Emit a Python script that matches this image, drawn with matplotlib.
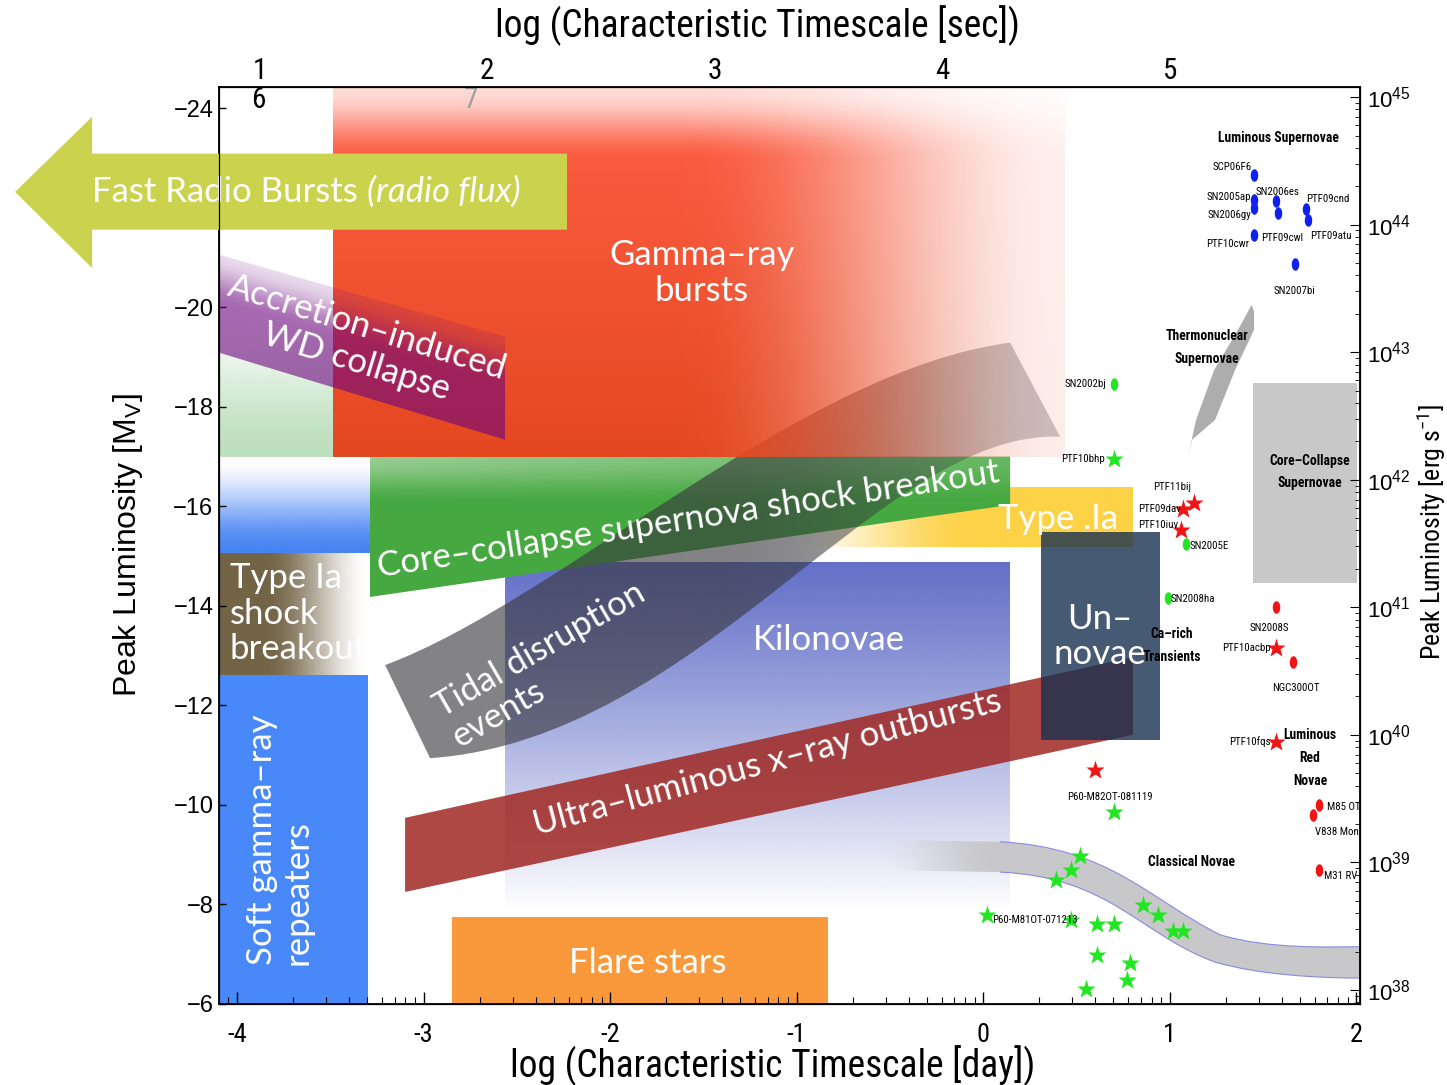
import numpy as np
import matplotlib

matplotlib.use("Agg")
import matplotlib.pyplot as plt
import matplotlib.font_manager as fm
from matplotlib.patches import Polygon, PathPatch, Rectangle
from matplotlib.path import Path

plt.rcParams["mathtext.default"] = "regular"


def narrow_family():
    """Pick a condensed sans face if one is installed, else plain Liberation Sans."""
    entries = fm.fontManager.ttflist
    names = {f.name for f in entries}
    for fam in ("Liberation Sans Narrow", "Arial Narrow", "Roboto Condensed",
                "Noto Sans Condensed", "Open Sans Condensed", "Noto Sans SemiCondensed",
                "Open Sans SemiCondensed"):
        if fam in names:
            return fam, "normal"
    for fam in ("Noto Sans", "Open Sans", "Roboto", "DejaVu Sans"):
        if any(f.name == fam and f.stretch in ("condensed", "semi-condensed", "extra-condensed")
               for f in entries):
            return fam, "condensed"
    for f in entries:
        low = f.name.lower()
        if ("condensed" in low or "narrow" in low) and "mono" not in low and "serif" not in low:
            return f.name, "normal"
    return "Liberation Sans", "normal"


NARROW_FAM, NARROW_STRETCH = narrow_family()
NARROW = [NARROW_FAM, "DejaVu Sans"]
PLAIN = ["Liberation Sans", "DejaVu Sans"]
LIGHT = ["Lato", "Roboto", "DejaVu Sans"]

# ---------------------------------------------------------------------------
# Known transients: log10(timescale / day) and peak absolute V magnitude
# ---------------------------------------------------------------------------
lsn_names = ["SCP06F6", "SN2005ap", "SN2006gy", "PTF10cwr", "SN2006es",
             "PTF09cwl", "PTF09cnd", "PTF09atu", "SN2007bi"]
lsn_logt = [1.45, 1.45, 1.45, 1.45, 1.57, 1.58, 1.73, 1.74, 1.67]
lsn_mag = [-22.66, -22.16, -22.00, -21.46, -22.14, -21.90, -21.98, -21.76, -20.87]

gdot_names = ["SN2002bj", "SN2005E", "SN2008ha"]
gdot_logt = [0.70, 1.09, 0.99]
gdot_mag = [-18.46, -15.25, -14.16]

gstar_names = ["PTF10bhp", "P60-M81OT-071213"]
gstar_logt = [0.70, 0.02]
gstar_mag = [-16.95, -7.79]

# unlabelled classical novae
nova_logt = [0.70, 0.52, 0.47, 0.39, 0.47, 0.61, 0.70, 0.86, 0.94, 1.02,
             1.07, 0.61, 0.79, 0.77, 0.55]
nova_mag = [-9.86, -8.97, -8.69, -8.49, -7.69, -7.61, -7.61, -7.99, -7.79,
            -7.47, -7.47, -6.98, -6.82, -6.48, -6.30]

rstar_names = ["PTF11bij", "PTF09dav", "PTF10iuv", "PTF10acbp", "PTF10fqs",
               "P60-M82OT-081119"]
rstar_logt = [1.13, 1.07, 1.06, 1.57, 1.57, 0.60]
rstar_mag = [-16.07, -15.95, -15.53, -13.16, -11.27, -10.70]

rdot_names = ["SN2008S", "NGC300OT", "M85 OT", "V838 Mon", "M31 RV"]
rdot_logt = [1.57, 1.66, 1.80, 1.77, 1.80]
rdot_mag = [-13.98, -12.87, -10.00, -9.80, -8.69]

day_ticks = [-4, -3, -2, -1, 0, 1, 2]
day_ticklabels = ["-4", "-3", "-2", "-1", "0", "1", "2"]
sec_ticks = [1, 2, 3, 4, 5]
mag_ticks = [-24, -22, -20, -18, -16, -14, -12, -10, -8, -6]
lum_exponents = [38, 39, 40, 41, 42, 43, 44, 45]

# label placement next to each marker: (dx pt, dy pt, ha)
label_pos = {
    "SCP06F6": (-1.5, 6, "right"), "SN2005ap": (-1.5, 2, "right"),
    "SN2006gy": (-1.5, -5, "right"), "PTF10cwr": (-3, -7, "right"),
    "SN2006es": (1.5, 6.5, "center"), "PTF09cwl": (3.5, -18, "center"),
    "PTF09cnd": (0, 7, "left"), "PTF09atu": (1.5, -12, "left"),
    "SN2007bi": (0, -19.5, "center"),
    "SN2002bj": (-5, 0, "right"), "SN2005E": (2, -2, "left"),
    "SN2008ha": (2, -1, "left"),
    "PTF10bhp": (-6, 0, "right"), "P60-M81OT-071213": (3.5, -3.5, "left"),
    "PTF11bij": (-2, 11.5, "right"), "PTF09dav": (-1.5, 0, "right"),
    "PTF10iuv": (-2, 3.5, "right"), "PTF10acbp": (-3.5, 0, "right"),
    "PTF10fqs": (-3.5, 0, "right"), "P60-M82OT-081119": (11, -19.5, "center"),
    "SN2008S": (-5, -15, "center"), "NGC300OT": (2, -18.5, "center"),
    "M85 OT": (6, -1.5, "left"), "V838 Mon": (1.5, -12, "left"),
    "M31 RV": (3.5, -4.5, "left"),
}

XLIM = (-4.097, 2.021)
YLIM = (-6.0, -24.43)


def smooth(t):
    t = np.clip(t, 0.0, 1.0)
    return t * t * (3 - 2 * t)


def grid(nu=300, nv=200):
    return np.meshgrid(np.linspace(0, 1, nu), np.linspace(0, 1, nv))


def rgba(rgb, alpha):
    rgb = np.asarray(rgb, dtype=float)
    if rgb.ndim == 1:
        rgb = np.broadcast_to(rgb / 255.0, alpha.shape + (3,))
    else:
        rgb = rgb / 255.0
    return np.dstack([rgb, np.clip(alpha, 0, 1)])


def shade(ax, shape, box, img, z):
    """Paint img over box=(x0, x1, m_top, m_bottom), clipped to shape."""
    if isinstance(shape, Path):
        patch = PathPatch(shape, fc="none", ec="none")
    else:
        patch = Polygon(shape, closed=True, fc="none", ec="none")
    ax.add_patch(patch)
    x0, x1, mt, mb = box
    im = ax.imshow(img, extent=(x0, x1, mt, mb), origin="lower", aspect="auto",
                   interpolation="bilinear", zorder=z)
    im.set_clip_path(patch)
    return im


def rect(x0, x1, mt, mb):
    return [(x0, mt), (x1, mt), (x1, mb), (x0, mb)]


fig = plt.figure(figsize=(14.47, 10.85), dpi=100)
ax = fig.add_axes([0.1513, 0.0747, 0.7886, 0.8452])

# green shock-breakout wash behind the GRB box
U, V = grid()
b = (-4.097, -3.485, -20.15, -17.0)
shade(ax, rect(*b), b, rgba((100, 180, 100), 0.42 * smooth(V)), 1.0)

# gamma-ray bursts (drawn over the TDE band, which shows through the faded side)
U, V = grid(400, 250)
top_c = np.array([255, 95, 70.0])
bot_c = np.array([228, 72, 32.0])
col = top_c * (1 - V[..., None]) + bot_c * V[..., None]
a = (1 - 0.9 * smooth((U - 0.48) / 0.52)) * (0.22 + 0.78 * smooth(V / 0.2))
b = (-3.485, 0.440, -24.43, -17.0)
shade(ax, rect(*b), b, rgba(col, a), 1.55)

# accretion-induced WD collapse
U, V = grid()
b = (-4.097, -2.563, -21.06, -17.34)
X = b[0] + U * (b[1] - b[0])
Y = b[2] + V * (b[3] - b[2])
f = (X - b[0]) / (b[1] - b[0])
ytop = -21.06 + f * 1.65
ybot = -19.09 + f * 1.75
t = (Y - ytop) / (ybot - ytop)
aic = [(-4.097, -21.06), (-2.563, -19.41), (-2.563, -17.34), (-4.097, -19.09)]
shade(ax, aic, b, rgba((108, 5, 126), 0.6 * (0.25 + 0.75 * smooth(t / 0.5))), 1.6)

# type .Ia
U, V = grid()
b = (-1.088, 0.804, -16.39, -15.19)
shade(ax, rect(*b), b, rgba((253, 210, 70), smooth(U / 0.55)), 1.2)

# core-collapse supernova shock breakout
U, V = grid()
b = (-3.287, 0.145, -17.0, -14.18)
light = (1 - smooth(V / 0.35)) * (1 - 0.6 * U)
col = (np.array([70, 168, 65.0]) * (1 - light[..., None])
       + np.array([150, 205, 145.0]) * light[..., None])
ccsn = [(-3.287, -17.0), (0.145, -17.0), (0.145, -16.03), (-3.287, -14.18)]
shade(ax, ccsn, b, rgba(col, np.ones_like(U)), 1.3)

# blue wash left of the breakout band
U, V = grid()
b = (-4.097, -3.287, -17.0, -15.07)
shade(ax, rect(*b), b, rgba((70, 132, 242), smooth(V)), 1.3)

# type Ia shock breakout
U, V = grid()
b = (-4.097, -3.287, -15.07, -12.61)
shade(ax, rect(*b), b, rgba((115, 100, 70), 1 - smooth((U - 0.3) / 0.7)), 1.3)

# soft gamma-ray repeaters
ax.add_patch(Rectangle((-4.097, -12.61), 0.799, 6.61, fc="#4888f8", ec="none", zorder=1.3))

# kilonovae
U, V = grid()
b = (-2.563, 0.145, -14.88, -7.89)
shade(ax, rect(*b), b, rgba((100, 112, 200), 1 - V ** 1.1), 1.2)

# tidal disruption events
tde = Path([(-3.206, -12.81), (-2.268, -14.12), (-0.981, -18.74), (0.145, -19.29),
            (0.413, -17.40), (-0.552, -17.54), (-1.517, -11.31), (-2.965, -10.94),
            (-3.206, -12.81), (-3.206, -12.81)],
           [Path.MOVETO, Path.CURVE4, Path.CURVE4, Path.CURVE4,
            Path.LINETO, Path.CURVE4, Path.CURVE4, Path.CURVE4,
            Path.LINETO, Path.CLOSEPOLY])
U, V = grid()
b = (-3.206, 0.413, -19.29, -10.94)
shade(ax, tde, b, rgba((55, 55, 60), 0.62 - 0.34 * smooth((U - 0.5) / 0.5)), 1.5)

# ultra-luminous x-ray outbursts
ulx = [(-3.099, -9.74), (0.804, -12.97), (0.804, -11.41), (-3.099, -8.25)]
ax.add_patch(Polygon(ulx, closed=True, fc=(160 / 255, 40 / 255, 35 / 255), alpha=0.85,
                     ec="none", zorder=1.6))

# un-novae
ax.add_patch(Rectangle((0.311, -15.49), 0.638, 4.18, fc=(24 / 255, 49 / 255, 80 / 255),
                       alpha=0.8, ec="none", zorder=1.7))

# flare stars
ax.add_patch(Rectangle((-2.847, -7.75), 2.016, 1.75, fc="#fa983c", ec="none", zorder=1.3))

# classical novae band
nov = Path([(-0.568, -9.30), (0.091, -9.26), (0.681, -9.14), (0.895, -8.09), (1.271, -7.39),
            (1.539, -7.09), (1.861, -7.15), (2.021, -7.15), (2.021, -6.52),
            (1.807, -6.52), (1.485, -6.58), (1.244, -6.84),
            (0.842, -7.39), (0.681, -8.55), (0.091, -8.65), (-0.568, -8.69),
            (-0.568, -9.30)],
           [Path.MOVETO, Path.LINETO, Path.CURVE4, Path.CURVE4, Path.CURVE4,
            Path.CURVE4, Path.CURVE4, Path.CURVE4, Path.LINETO,
            Path.CURVE4, Path.CURVE4, Path.CURVE4,
            Path.CURVE4, Path.CURVE4, Path.CURVE4, Path.LINETO, Path.CLOSEPOLY])
U, V = grid()
b = (-0.568, 2.021, -9.30, -6.52)
shade(ax, nov, b, rgba((200, 200, 202), smooth(U / 0.25)), 1.4)
for seg in ([(0.091, -9.26), (0.681, -9.14), (0.895, -8.09), (1.271, -7.39),
             (1.539, -7.09), (1.861, -7.15), (2.021, -7.15)],
            [(0.091, -8.65), (0.681, -8.55), (0.842, -7.39), (1.244, -6.84),
             (1.485, -6.58), (1.807, -6.52), (2.021, -6.52)]):
    codes = [Path.MOVETO] + [Path.CURVE4] * 6
    ax.add_patch(PathPatch(Path(seg, codes), fill=False, ec="#8a8ae0", lw=0.8, zorder=1.45))

# thermonuclear supernovae
thermo = [(1.099, -17.0), (1.142, -17.74), (1.239, -18.74), (1.367, -19.55), (1.440, -20.05),
          (1.453, -19.91), (1.453, -19.55), (1.351, -18.74), (1.244, -17.74), (1.121, -17.34)]
ax.add_patch(Polygon(thermo, closed=True, fc="#adadad", ec="none", zorder=1.4))

# core-collapse supernovae
ax.add_patch(Rectangle((1.448, -18.48), 0.557, 4.02, fc="#c8c8c8", ec="none", zorder=1.4))

# fast radio bursts arrow, reaching past the axes
frb = [(-5.190, -22.32), (-4.777, -23.83), (-4.777, -23.09), (-2.231, -23.09),
       (-2.231, -21.56), (-4.777, -21.56), (-4.777, -20.79)]
ax.add_patch(Polygon(frb, closed=True, fc="#cbd24e", ec="none", zorder=6, clip_on=False))

# ---------------------------------------------------------------------------
# region names
# ---------------------------------------------------------------------------
lt = dict(color="white", family=LIGHT, fontweight="normal", fontsize=25,
          ha="center", va="center", rotation_mode="anchor", linespacing=1.13, zorder=8)
t1 = ax.text(-4.777, -22.32, "Fast Radio Bursts ", **{**lt, "ha": "left"})
ax.annotate("(radio flux)", xy=(1, 0.5), xycoords=t1, ha="left", va="center",
            color="white", family=LIGHT, fontsize=25, style="italic", zorder=8)
ax.text(-1.507, -20.69, "Gamma–ray\nbursts", **lt)
ax.text(-3.330, -19.25, "Accretion–induced\nWD collapse", rotation=-17, **lt)
ax.text(-1.582, -15.73, "Core–collapse supernova shock breakout", rotation=8.7, **lt)
ax.text(-4.038, -13.84, "Type Ia\nshock\nbreakout", **{**lt, "ha": "left"})
ax.text(-3.769, -9.30, "Soft gamma–ray\nrepeaters", rotation=90, multialignment="left", **lt)
ax.text(-2.332, -12.81, "Tidal disruption\nevents", rotation=30, multialignment="left", **lt)
ax.text(-0.826, -13.32, "Kilonovae", **lt)
ax.text(0.402, -15.75, "Type .Ia", **lt)
ax.text(0.627, -13.38, "Un–\nnovae", **lt)
ax.text(-1.158, -10.84, "Ultra–luminous x–ray outbursts", rotation=15, **lt)
ax.text(-1.796, -6.82, "Flare stars", **lt)

bk = dict(color="black", family=NARROW, stretch=NARROW_STRETCH, fontweight="bold",
          fontsize=9.8, ha="center", va="center", linespacing=1.8, zorder=9)
ax.text(1.582, -23.41, "Luminous Supernovae", **bk)
ax.text(1.201, -19.19, "Thermonuclear\nSupernovae", **bk)
ax.text(1.753, -16.69, "Core–Collapse\nSupernovae", **bk)
ax.text(1.012, -13.20, "Ca–rich\nTransients", **bk)
ax.text(1.753, -10.94, "Luminous\nRed\nNovae", **bk)
ax.text(1.115, -8.85, "Classical Novae", **bk)

# ---------------------------------------------------------------------------
# individual events
# ---------------------------------------------------------------------------
th = np.linspace(0, 2 * np.pi, 40)
oval = Path(np.column_stack([0.6 * np.cos(th), np.sin(th)]))

ax.plot(lsn_logt, lsn_mag, ls="none", marker=oval, ms=9, color="#1020f0", mec="none", zorder=10)
ax.plot(gdot_logt, gdot_mag, ls="none", marker=oval, ms=9, color="#22e622", mec="none", zorder=10)
ax.plot(gstar_logt, gstar_mag, ls="none", marker="*", ms=14, color="#22e622", mec="none", zorder=10)
ax.plot(nova_logt, nova_mag, ls="none", marker="*", ms=14, color="#22e622", mec="none", zorder=10)
ax.plot(rstar_logt, rstar_mag, ls="none", marker="*", ms=14, color="#f01414", mec="none", zorder=10)
ax.plot(rdot_logt, rdot_mag, ls="none", marker=oval, ms=9, color="#f01414", mec="none", zorder=10)

for names, xs, ys in ((lsn_names, lsn_logt, lsn_mag), (gdot_names, gdot_logt, gdot_mag),
                      (gstar_names, gstar_logt, gstar_mag), (rstar_names, rstar_logt, rstar_mag),
                      (rdot_names, rdot_logt, rdot_mag)):
    for n, x, y in zip(names, xs, ys):
        dx, dy, ha = label_pos[n]
        ax.annotate(n, (x, y), xytext=(dx, dy), textcoords="offset points", ha=ha,
                    va="center", fontsize=7.8, family=NARROW, stretch=NARROW_STRETCH,
                    color="black", zorder=11)

# stray axis digits left inside the frame
ax.text(-3.887, -24.17, "6", fontsize=21, family=NARROW, stretch=NARROW_STRETCH,
        ha="center", va="center", zorder=9)
ax.text(-2.745, -24.17, "7", fontsize=21, family=NARROW, stretch=NARROW_STRETCH,
        color="#a0a0a0", ha="center", va="center", zorder=9)

# ---------------------------------------------------------------------------
# axes
# ---------------------------------------------------------------------------
ax.set_xlim(*XLIM)
ax.set_ylim(*YLIM)
ax.set_xticks(day_ticks)
ax.set_xticklabels(day_ticklabels, family=NARROW, stretch=NARROW_STRETCH, fontsize=19)
minor = [n + np.log10(k) for n in range(-5, 3) for k in range(2, 10)]
ax.set_xticks([m for m in minor if XLIM[0] < m < XLIM[1]], minor=True)
ax.set_yticks(mag_ticks)
# the -22 label sits under the radio-burst arrow
ax.set_yticklabels(["" if v == -22 else f"\u2212{abs(v)}" for v in mag_ticks],
                   family=PLAIN, fontsize=17)
ax.tick_params(axis="x", which="major", direction="in", length=9, width=1, pad=14)
ax.tick_params(axis="x", which="minor", direction="in", length=5, width=0.8)
ax.tick_params(axis="y", direction="in", length=5, width=1, pad=4)
for s in ax.spines.values():
    s.set_linewidth(1.3)

ax_t = ax.twiny()
ax_t.set_xlim(0.821, 5.836)
ax_t.set_xticks(sec_ticks)
ax_t.set_xticklabels([str(v) for v in sec_ticks], family=NARROW, stretch=NARROW_STRETCH,
                     fontsize=21)
ax_t.tick_params(axis="x", length=0, pad=1.5)

ax_r = ax.twinx()
ax_r.set_yscale("log")
ax_r.set_ylim(10 ** 37.89, 10 ** 45.08)
ax_r.set_yticks([10.0 ** e for e in lum_exponents])
ax_r.set_yticklabels([f"$10^{{{e}}}$" for e in lum_exponents], family=PLAIN, fontsize=16)
ax_r.tick_params(axis="y", which="major", direction="in", length=7, pad=5)
ax_r.tick_params(axis="y", which="minor", direction="in", length=3.5)

fig.text(757 / 1447, 1 - 26 / 1085, "log (Characteristic Timescale [sec])",
         family=NARROW, stretch=NARROW_STRETCH, fontsize=27, ha="center", va="center")
fig.text(773 / 1447, 1 - 1066 / 1085, "log (Characteristic Timescale [day])",
         family=NARROW, stretch=NARROW_STRETCH, fontsize=27, ha="center", va="center")
fig.text(128 / 1447, 1 - 545 / 1085, "Peak Luminosity [M$_V$]", rotation=90,
         family=PLAIN, fontsize=23, ha="center", va="center")
fig.text(1432 / 1447, 1 - 532 / 1085, "Peak Luminosity [erg s$^{-1}$]", rotation=90,
         family=NARROW, stretch=NARROW_STRETCH, fontsize=18.5, ha="center", va="center")

fig.savefig("out.png", dpi=100)
